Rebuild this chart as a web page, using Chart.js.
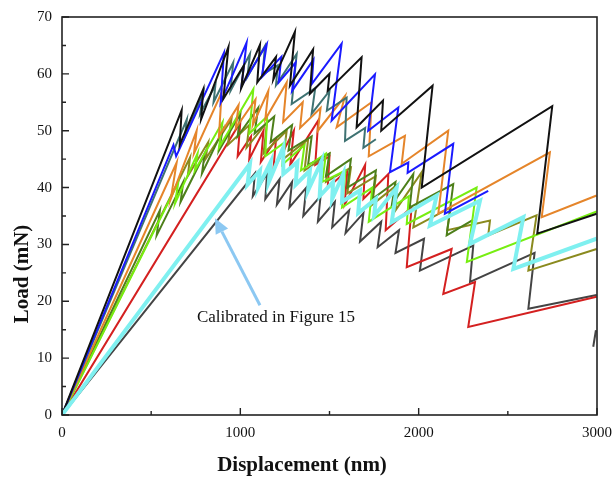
<!DOCTYPE html>
<html><head><meta charset="utf-8">
<script src="https://cdn.jsdelivr.net/npm/chart.js@4/dist/chart.umd.min.js"></script>
<style>html,body{margin:0;padding:0;background:#fff;} #c{display:block;}</style>
</head><body>
<canvas id="c" width="614" height="481"></canvas>
<script>
// ---- axis ranges / ticks ----
const xRange = [0, 3000];
const yRange = [0, 70];
const xTickStep = 1000;
const yTickStep = 10;
const xTitle = 'Displacement (nm)';
const yTitle = 'Load (mN)';

// ---- series: [displacement nm, load mN] ----
const cyanSeries = [[0,0],[1054,44.2],[1040,40.5],[1110,43],[1100,40],[1170,44.5],[1160,41],[1241,47.1],[1241,42.4],[1320,44.5],[1310,40.5],[1390,43],[1380,39.5],[1456,44.7],[1445,38.5],[1520,41],[1515,38],[1577,42.4],[1570,37.5],[1671,39.5],[1661,35.5],[1760,38],[1750,35],[1877,40],[1849,33.9],[2101,38.6],[2063,33.3],[2344,37.7],[2288,30.1],[2587,34.8],[2531,25.7],[2998,31]];
const blackSeries = [[0,0],[671,53.6],[660,47.5],[792,57.3],[780,52],[933,64.7],[905,55.6],[1020,61.5],[1005,57.5],[1110,65.1],[1095,58.5],[1200,63],[1185,59],[1306,67.4],[1278,57.9],[1408,64.3],[1390,56.5],[1500,60],[1490,57],[1680,62.9],[1652,50.6],[1800,55.3],[1790,50],[2078,57.9],[2017,40],[2749,54.3],[2665,31.9],[2998,35.4]];
const blueSeries = [[0,0],[625,47.5],[640,45.5],[908,63.7],[890,55],[1035,65.5],[1007,57.9],[1148,65.2],[1120,59.4],[1230,63],[1215,58.5],[1310,62],[1290,57],[1410,62.5],[1400,58.2],[1568,65.3],[1512,51.8],[1755,59.9],[1717,50],[1886,54.1],[1839,42.7],[1942,44.4],[1938,42.6],[2194,47.7],[2147,35.4],[2390,39.4]];
const tealSeries = [[0,0],[700,52],[690,49],[792,56.7],[775,53],[860,58],[850,55],[960,62],[945,57],[1054,63.5],[1040,59.5],[1138,64.9],[1125,59.9],[1210,61.5],[1200,58],[1316,63.5],[1288,54.7],[1420,57.5],[1400,53],[1500,57],[1485,53.5],[1596,55.8],[1587,48.2],[1700,50.5],[1690,47],[1760,48.5]];
const orangeSeries = [[0,0],[643,44.4],[610,38],[755,50],[740,46],[895,56.7],[880,49],[990,54.5],[975,50.5],[1085,55.5],[1070,51],[1157,57],[1140,52],[1260,58.5],[1240,51.5],[1350,55],[1335,50.5],[1450,54],[1435,50],[1587,56.1],[1540,50.6],[1736,55],[1720,45.5],[1923,49.1],[1905,44.2],[2166,50],[2110,35.4],[2736,46.2],[2690,34.8],[2998,38.6]];
const limeSeries = [[0,0],[652,40.9],[634,37.2],[760,46],[745,43],[900,51.5],[880,47],[1073,57.3],[1050,49.5],[1150,52.5],[1140,45.5],[1250,48],[1235,44],[1360,47.5],[1340,43],[1480,46],[1460,41],[1590,43],[1570,36.5],[1740,40],[1720,34],[1945,38.5],[1933,33.6],[2325,40],[2270,26.9],[2998,35.8]];
const darkGreenSeries = [[0,0],[549,36],[531,31.6],[680,41],[665,37.5],[800,46],[785,42.5],[900,50],[880,46.5],[1000,53],[985,49],[1100,54],[1080,49.5],[1190,52.5],[1170,48],[1290,51],[1270,46.5],[1400,49],[1380,44],[1500,46],[1480,42],[1620,45],[1600,40],[1760,43],[1740,38],[1870,41],[1850,37],[1970,42.4],[1950,36.5],[2194,40.6],[2157,31.6],[2305,34.3]];
const oliveSeries = [[0,0],[718,45.3],[705,42],[820,48],[805,45],[950,52],[930,47.5],[1050,51],[1035,47],[1150,51.5],[1130,46],[1260,50],[1240,45],[1380,48.5],[1360,43],[1500,46],[1480,41],[1620,43.5],[1600,39],[1760,42],[1740,37],[1880,40.5],[1870,36],[2017,42.7],[1970,33],[2180,36.5],[2160,32.5],[2400,34.2],[2390,31.6],[2661,35.1],[2615,25.4],[2998,29.2]];
const redSeries = [[0,0],[1000,51.5],[985,45.5],[1060,49],[1050,45],[1130,50],[1115,44.5],[1200,48.5],[1185,43],[1300,50],[1280,44],[1437,51.8],[1420,44],[1500,45.5],[1490,40],[1600,43],[1585,37],[1700,44],[1690,38],[1830,42.4],[1815,32.5],[1960,36.5],[1933,26],[2185,29.2],[2138,21.3],[2316,23.4],[2278,15.5],[2998,20.8]];
const grayLowSeries = [[0,0],[1082,42.5],[1070,38.5],[1150,42.5],[1140,38],[1220,41.5],[1205,37],[1290,41],[1275,36.5],[1370,40],[1353,35],[1450,38.5],[1435,34],[1530,37.5],[1515,33],[1610,36],[1590,32],[1690,35.5],[1671,30.5],[1790,34],[1770,29.5],[1890,32.5],[1870,28.5],[2030,31],[2007,25.4],[2306,29.8],[2288,23.4],[2650,28.5],[2615,18.7],[2998,21.1]];
const edgeTail = [[2979,12],[2994,14.9]];

// annotation (data coordinates)
const noteText = 'Calibrated in Figure 15';
const noteArrowTip = [858, 34.6];
const noteArrowTail = [1110, 19.3];
const noteTextAt = [1200, 17.2];

const seriesList = [
  {name:'cyan', pts:cyanSeries, color:'#7ff0f0', w:4},
  {name:'black', pts:blackSeries, color:'#111111', w:2},
  {name:'blue', pts:blueSeries, color:'#1a1aff', w:2},
  {name:'teal', pts:tealSeries, color:'#3e7272', w:2},
  {name:'orange', pts:orangeSeries, color:'#e5852a', w:2},
  {name:'lime', pts:limeSeries, color:'#77ee11', w:2},
  {name:'darkgreen', pts:darkGreenSeries, color:'#4d7f1a', w:2},
  {name:'olive', pts:oliveSeries, color:'#8a8a1e', w:2},
  {name:'red', pts:redSeries, color:'#d42020', w:2},
  {name:'gray', pts:grayLowSeries, color:'#444444', w:2},
  {name:'tail', pts:edgeTail, color:'#444444', w:2}
];

const datasets = seriesList.map(s => ({
  label: s.name,
  data: s.pts.map(p => ({x:p[0], y:p[1]})),
  showLine: true,
  borderColor: s.color,
  backgroundColor: s.color,
  borderWidth: s.w,
  pointRadius: 0,
  tension: 0,
  fill: false,
  borderJoinStyle: 'miter'
}));

const serif = "'Liberation Serif', 'Times New Roman', serif";

const decor = {
  id: 'decor',
  afterDraw(chart) {
    const {ctx, chartArea:a, scales:{x, y}} = chart;
    ctx.save();
    // frame
    ctx.strokeStyle = '#222'; ctx.lineWidth = 1.6;
    ctx.strokeRect(a.left, a.top, a.right - a.left, a.bottom - a.top);
    // inward ticks
    ctx.lineWidth = 1.4;
    ctx.beginPath();
    for (let v = xRange[0]; v <= xRange[1]; v += xTickStep/2) {
      const p = x.getPixelForValue(v);
      const L = (v % xTickStep === 0) ? 7 : 4;
      ctx.moveTo(p, a.bottom); ctx.lineTo(p, a.bottom - L);
    }
    for (let v = yRange[0]; v <= yRange[1]; v += yTickStep/2) {
      const p = y.getPixelForValue(v);
      const L = (v % yTickStep === 0) ? 7 : 4;
      ctx.moveTo(a.left, p); ctx.lineTo(a.left + L, p);
    }
    ctx.stroke();
    // axis titles
    ctx.fillStyle = '#111';
    ctx.font = "bold 21px " + serif;
    ctx.textAlign = 'center'; ctx.textBaseline = 'middle';
    ctx.fillText(xTitle, 302, 466);
    ctx.save();
    ctx.translate(23, 274);
    ctx.rotate(-Math.PI/2);
    ctx.fillText(yTitle, 0, 0);
    ctx.restore();
    // annotation arrow
    const tx = x.getPixelForValue(noteArrowTip[0]), ty = y.getPixelForValue(noteArrowTip[1]);
    const sx = x.getPixelForValue(noteArrowTail[0]), sy = y.getPixelForValue(noteArrowTail[1]);
    const ang = Math.atan2(ty - sy, tx - sx);
    const headL = 15, headW = 7;
    const bx = tx - headL*Math.cos(ang), by = ty - headL*Math.sin(ang);
    ctx.strokeStyle = '#8cc8f2'; ctx.fillStyle = '#8cc8f2'; ctx.lineWidth = 3;
    ctx.beginPath(); ctx.moveTo(sx, sy); ctx.lineTo(bx, by); ctx.stroke();
    ctx.beginPath();
    ctx.moveTo(tx, ty);
    ctx.lineTo(bx + headW*Math.sin(ang), by - headW*Math.cos(ang));
    ctx.lineTo(bx - headW*Math.sin(ang), by + headW*Math.cos(ang));
    ctx.closePath(); ctx.fill();
    // annotation text
    ctx.fillStyle = '#111';
    ctx.font = "17px " + serif;
    ctx.textAlign = 'center'; ctx.textBaseline = 'middle';
    ctx.fillText(noteText, x.getPixelForValue(noteTextAt[0]), y.getPixelForValue(noteTextAt[1]));
    ctx.restore();
  }
};

new Chart(document.getElementById('c'), {
  type: 'scatter',
  data: { datasets },
  options: {
    responsive: false,
    animation: false,
    devicePixelRatio: 1,
    layout: { padding: { left: 0, top: 17, right: 17, bottom: 0 } },
    plugins: { legend: { display: false }, tooltip: { enabled: false } },
    elements: { line: { borderCapStyle: 'butt' } },
    scales: {
      x: {
        type: 'linear', min: xRange[0], max: xRange[1],
        grid: { display: false, drawTicks: false },
        border: { display: false },
        ticks: { stepSize: xTickStep, padding: 9, color: '#111', font: { family: serif, size: 15 },
                 callback: v => String(v) },
        afterFit: s => { s.height = 66; s.paddingLeft = 0; s.paddingRight = 0; }
      },
      y: {
        type: 'linear', min: yRange[0], max: yRange[1],
        grid: { display: false, drawTicks: false },
        border: { display: false },
        ticks: { stepSize: yTickStep, padding: 10, color: '#111', font: { family: serif, size: 15 },
                 callback: v => String(v) },
        afterFit: s => { s.width = 62; s.paddingTop = 0; s.paddingBottom = 0; }
      }
    }
  },
  plugins: [decor]
});
</script>
</body></html>
